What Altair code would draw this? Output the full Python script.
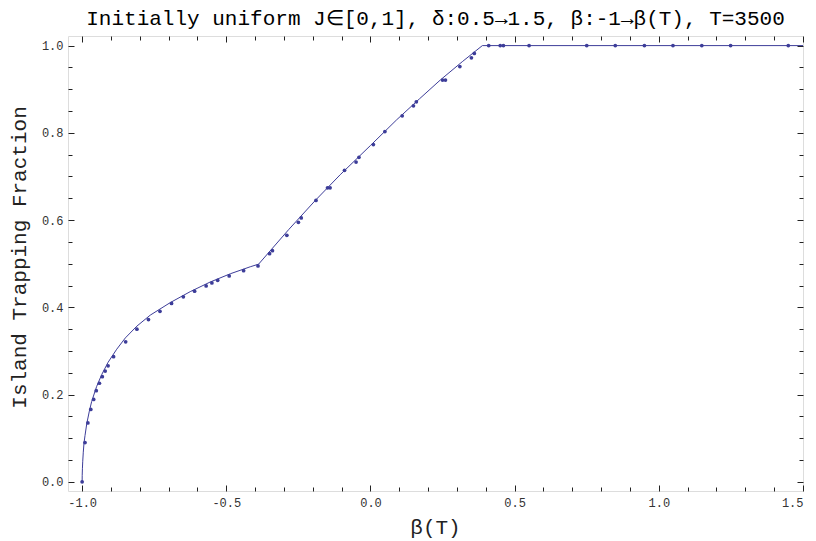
import altair as alt
import pandas as pd

# ---- data ----
beta_pts = [-1.000, -0.990, -0.980, -0.970, -0.960, -0.951, -0.940, -0.930, -0.920, -0.910,
            -0.891, -0.849, -0.810, -0.770, -0.730, -0.690, -0.649, -0.610, -0.570, -0.550,
            -0.530, -0.490, -0.440, -0.390, -0.350, -0.340,
            -0.290, -0.250, -0.240, -0.189, -0.149, -0.140, -0.090, -0.050, -0.040, 0.010,
            0.050, 0.110, 0.149, 0.159, 0.250, 0.260, 0.310, 0.350, 0.360,
            0.410, 0.450, 0.461, 0.550, 0.750, 0.849, 0.950, 1.049, 1.149, 1.249, 1.449]
frac_pts = [0.000, 0.090, 0.135, 0.166, 0.189, 0.209, 0.226, 0.241, 0.254, 0.266,
            0.287, 0.321, 0.350, 0.372, 0.391, 0.409, 0.424, 0.437, 0.449, 0.456,
            0.462, 0.472, 0.484, 0.495, 0.523, 0.530,
            0.565, 0.595, 0.605, 0.645, 0.674, 0.674, 0.714, 0.733, 0.744, 0.773,
            0.803, 0.839, 0.862, 0.871, 0.921, 0.921, 0.952, 0.972, 0.982,
            1.0, 1.0, 1.0, 1.0, 1.0, 1.0, 1.0, 1.0, 1.0, 1.0, 1.0]

beta_line = [-1.0, -0.9997, -0.999, -0.998, -0.996, -0.9935, -0.99, -0.984, -0.975, -0.967,
             -0.95, -0.932, -0.91, -0.88, -0.85, -0.81, -0.764, -0.694, -0.625, -0.556,
             -0.486, -0.417, -0.388, -0.284, -0.19, -0.105, 0.0, 0.091, 0.17, 0.242,
             0.32, 0.388, 1.5]
frac_line = [0.0, 0.015, 0.03, 0.046, 0.068, 0.089, 0.106, 0.133, 0.162, 0.184,
             0.218, 0.246, 0.274, 0.304, 0.330, 0.357, 0.382, 0.411, 0.436, 0.458,
             0.477, 0.493, 0.499, 0.578, 0.646, 0.704, 0.771, 0.830, 0.878, 0.921,
             0.964, 1.0, 1.0]

x_major = [-1.0, -0.5, 0.0, 0.5, 1.0, 1.5]
x_minor = [-0.9, -0.8, -0.7, -0.6, -0.4, -0.3, -0.2, -0.1, 0.1, 0.2, 0.3, 0.4,
           0.6, 0.7, 0.8, 0.9, 1.1, 1.2, 1.3, 1.4]
y_major = [0.0, 0.2, 0.4, 0.6, 0.8, 1.0]
y_minor = [0.05, 0.1, 0.15, 0.25, 0.3, 0.35, 0.45, 0.5, 0.55, 0.65, 0.7, 0.75,
           0.85, 0.9, 0.95]

title_text = "Initially uniform J\u2208[0,1], \u03b4:0.5\u21921.5, \u03b2:-1\u2192\u03b2(T), T=3500"

pts = pd.DataFrame({"beta": beta_pts, "frac": frac_pts})
line = pd.DataFrame({"beta": beta_line, "frac": frac_line})

FONT = "Liberation Mono"
COL = "#3d3d99"
INK = "#222222"
xs = alt.Scale(domain=[-1.049, 1.5], nice=False, zero=False)
ys = alt.Scale(domain=[-0.021, 1.022], nice=False, zero=False)

LBL = "(datum.value < 0 ? '-' : '') + format(abs(datum.value), '.1f')"


def axis(orient, values, size, labels, title="", **kw):
    return alt.Axis(orient=orient, values=values, offset=-size, tickSize=size,
                    labels=labels, domain=False, grid=False, title=title,
                    tickColor=INK, tickWidth=1, **kw)


lab_kw = dict(labelFont=FONT, labelFontSize=12, labelColor="#333333", labelExpr=LBL,
              titleFont=FONT, titleFontSize=21, titleFontWeight="normal", titleColor=INK)

l1 = alt.Chart(line).mark_line(color=COL, strokeWidth=1).encode(
    x=alt.X("beta:Q", scale=xs,
            axis=axis("bottom", x_major, 6, True, title="\u03b2(T)", labelPadding=6,
                      titleX=367, titleY=42, titleBaseline="middle", **lab_kw)),
    y=alt.Y("frac:Q", scale=ys,
            axis=axis("left", y_major, 6, True, title="Island Trapping Fraction",
                      labelPadding=5, titleX=-55, titleY=221, titleAngle=270,
                      titleBaseline="middle", **lab_kw)),
)

l2 = alt.Chart(pts).mark_circle(color=COL, size=14, opacity=1).encode(
    x=alt.X("beta:Q", scale=xs, axis=axis("bottom", x_minor, 4, False)),
    y=alt.Y("frac:Q", scale=ys, axis=axis("left", y_minor, 4, False)),
)

l3 = alt.Chart(pts).mark_circle(opacity=0).encode(
    x=alt.X("beta:Q", scale=xs, axis=axis("top", x_major, 6, False)),
    y=alt.Y("frac:Q", scale=ys, axis=axis("right", y_major, 6, False)),
)

l4 = alt.Chart(pts).mark_circle(opacity=0).encode(
    x=alt.X("beta:Q", scale=xs, axis=axis("top", x_minor, 4, False)),
    y=alt.Y("frac:Q", scale=ys, axis=axis("right", y_minor, 4, False)),
)

chart = alt.layer(l1, l2, l3, l4).resolve_axis(
    x="independent", y="independent"
).properties(
    width=735, height=455, autosize="none",
    padding={"left": 60, "top": 28, "right": 5, "bottom": 50},
    title=alt.TitleParams(title_text, font=FONT, fontSize=21, fontWeight="normal",
                          color="#000000", offset=7),
).configure_view(stroke=INK, strokeWidth=1).configure(background="white")

chart.save("out.html", embed_options={"renderer": "svg", "actions": False})
